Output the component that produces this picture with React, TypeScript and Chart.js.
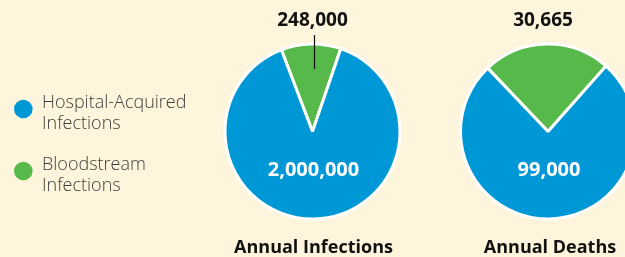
import React, { useEffect, useRef } from "react";
import { Chart, registerables } from "chart.js";

Chart.register(...registerables);

// ---- data ----
const sliceLabels = ["Bloodstream Infections", "Hospital-Acquired Infections"];
const chartTitles = ["Annual Infections", "Annual Deaths"];
const bloodstreamValues = [248000, 30665];
const hospitalValues = [2000000, 99000];
const legendEntries = [
  ["Hospital-Acquired", "Infections"],
  ["Bloodstream", "Infections"],
];

// ---- style ----
const BG = "#fef5dc";
const BLUE = "#0097d7";
const GREEN = "#57b94a";
const sliceColors = [GREEN, BLUE];
const legendColors = [BLUE, GREEN];
const FONT = "'Open Sans', 'Noto Sans', 'DejaVu Sans', sans-serif";

const fmt = (v: number) => v.toLocaleString("en-US");

function makeLabelPlugin(idx: number, opts: { leader: boolean; topDx: number; titleDx: number; legend: boolean }) {
  return {
    id: "pieLabels" + idx,
    afterDraw(chart: any) {
      const ctx = chart.ctx as CanvasRenderingContext2D;
      const arc: any = chart.getDatasetMeta(0).data[0];
      if (!arc) return;
      const cx = arc.x;
      const cy = arc.y;
      const r = arc.outerRadius;
      const top = cy - r;
      ctx.save();
      ctx.textAlign = "center";
      ctx.textBaseline = "alphabetic";
      // top value (bloodstream)
      ctx.fillStyle = "#111111";
      ctx.font = `bold 19px ${FONT}`;
      ctx.fillText(fmt(bloodstreamValues[idx]), cx + opts.topDx, top - 18);
      if (opts.leader) {
        ctx.strokeStyle = "#111111";
        ctx.lineWidth = 1.2;
        ctx.beginPath();
        ctx.moveTo(cx + 2, top - 9);
        ctx.lineTo(cx + 2, top + 25);
        ctx.stroke();
      }
      // inside value (hospital-acquired)
      ctx.fillStyle = "#ffffff";
      ctx.font = `bold 20px ${FONT}`;
      ctx.fillText(fmt(hospitalValues[idx]), cx + 1, cy + 44.5);
      // title
      ctx.fillStyle = "#111111";
      ctx.font = `bold 18px ${FONT}`;
      ctx.fillText(chartTitles[idx], cx + opts.titleDx, cy + 121.5);

      if (opts.legend) {
        const ys = [109, 171];
        legendEntries.forEach((lines, i) => {
          ctx.fillStyle = legendColors[i];
          ctx.beginPath();
          ctx.arc(23.3, ys[i], 9.3, 0, Math.PI * 2);
          ctx.fill();
          ctx.fillStyle = "#3d3d3d";
          ctx.textAlign = "left";
          ctx.font = `300 18px ${FONT}`;
          lines.forEach((t, j) => {
            ctx.fillText(t, 42, ys[i] - 1.5 + j * 21);
          });
        });
      }
      ctx.restore();
    },
  };
}

function PieChart(props: {
  idx: number;
  left: number;
  width: number;
  padLeft: number;
  padRight: number;
  leader: boolean;
  legend: boolean;
  topDx: number;
  titleDx: number;
}) {
  const ref = useRef<HTMLCanvasElement | null>(null);
  useEffect(() => {
    if (!ref.current) return;
    const { idx } = props;
    const values = [bloodstreamValues[idx], hospitalValues[idx]];
    const total = values[0] + values[1];
    const chart = new Chart(ref.current, {
      type: "pie",
      data: {
        labels: sliceLabels,
        datasets: [
          {
            data: values,
            backgroundColor: sliceColors,
            borderColor: "#ffffff",
            borderWidth: 3,
          },
        ],
      },
      options: {
        responsive: false,
        animation: false,
        rotation: -(values[0] / total) * 180 - 1,
        layout: {
          padding: { top: 42.5, bottom: 36.5, left: props.padLeft, right: props.padRight },
        },
        plugins: {
          legend: { display: false },
          tooltip: { enabled: false },
        },
      },
      plugins: [makeLabelPlugin(idx, props)],
    });
    return () => chart.destroy();
  }, []);
  return (
    <canvas
      ref={ref}
      width={props.width}
      height={257}
      style={{ position: "absolute", left: props.left, top: 0, width: props.width, height: 257 }}
    />
  );
}

export default function App() {
  return (
    <div
      style={{
        position: "fixed",
        left: 0,
        top: 0,
        width: 625,
        height: 257,
        overflow: "hidden",
        background: BG,
      }}
    >
      <PieChart idx={0} left={0} width={425} padLeft={223.5} padRight={23.5} leader={true} legend={true} topDx={0} titleDx={1} />
      <PieChart idx={1} left={425} width={250} padLeft={34} padRight={38} leader={false} legend={false} topDx={-5} titleDx={2} />
    </div>
  );
}
